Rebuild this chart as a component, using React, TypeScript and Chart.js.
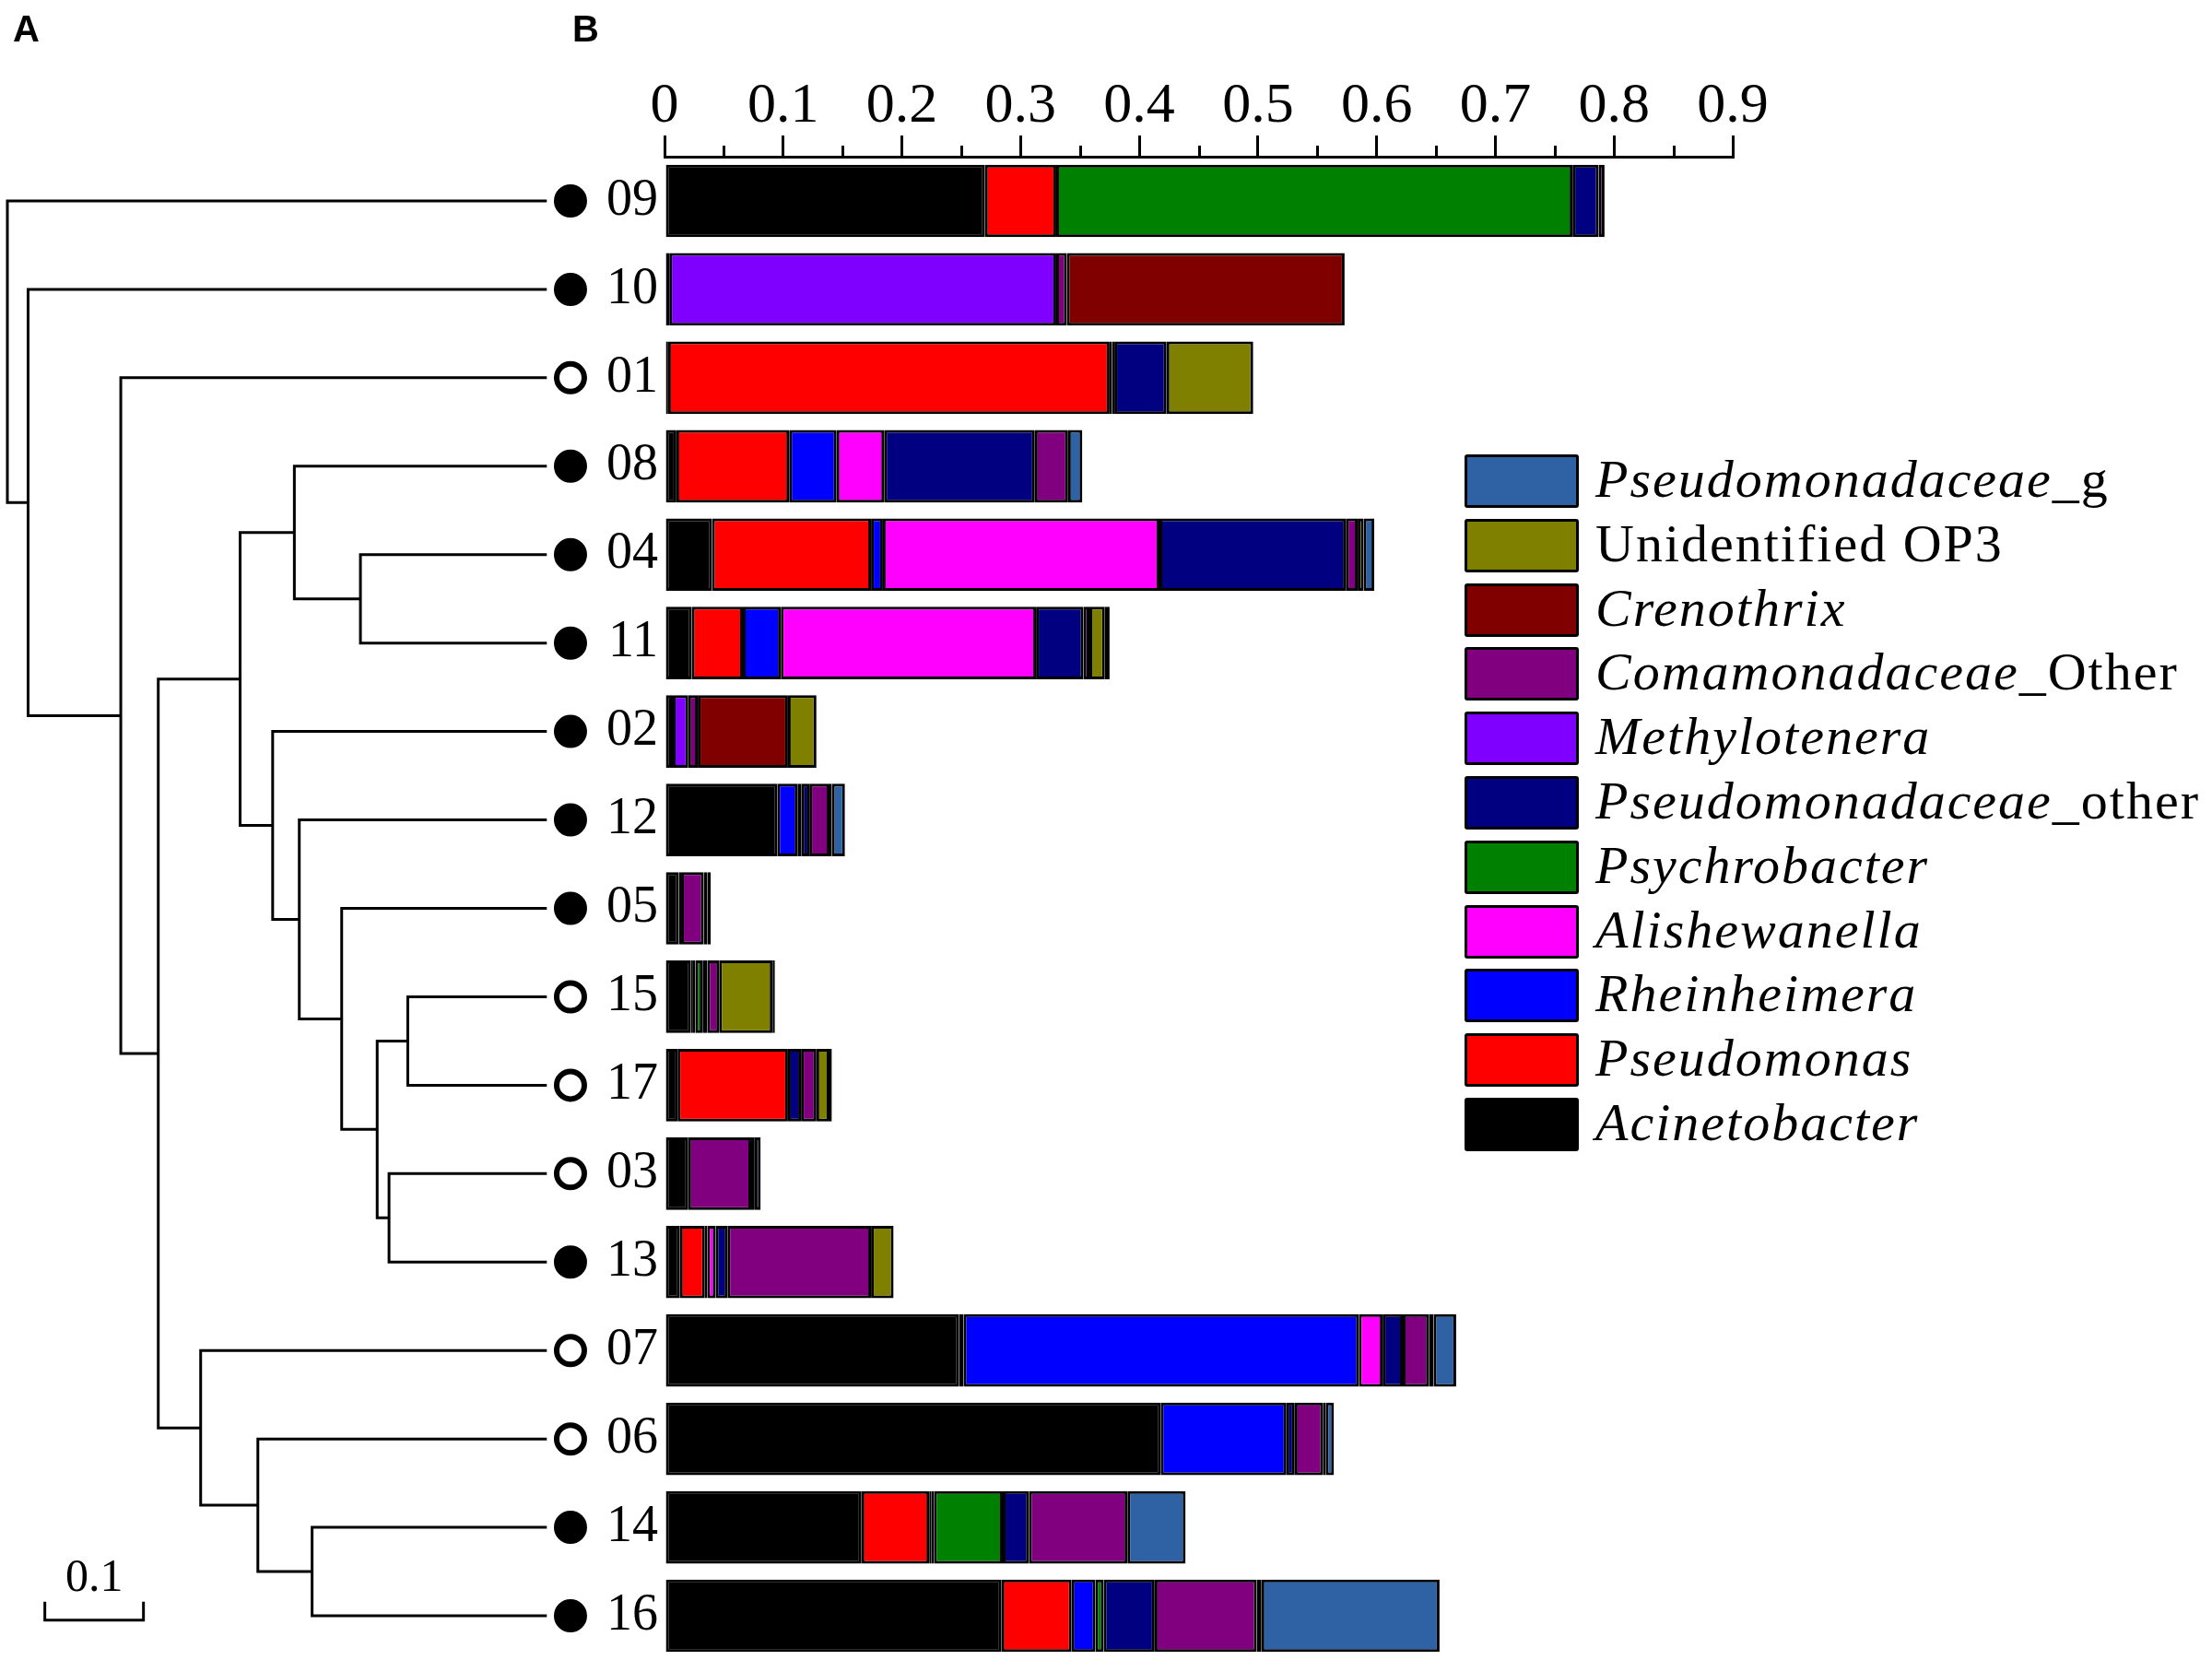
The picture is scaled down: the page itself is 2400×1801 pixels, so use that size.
import React, { useEffect, useRef } from 'react';
import { Chart, registerables } from 'chart.js';

Chart.register(...registerables);

// ---------- data ----------
const samples = ['09', '10', '01', '08', '04', '11', '02', '12', '05', '15', '17', '03', '13', '07', '06', '14', '16'];
const markerFilled = [true, true, false, true, true, true, true, true, true, false, false, false, true, false, false, true, true];

const taxa = [
  'Acinetobacter', 'Pseudomonas', 'Rheinheimera', 'Alishewanella', 'Psychrobacter',
  'Pseudomonadaceae_other', 'Methylotenera', 'Comamonadaceae_Other', 'Crenothrix',
  'Unidentified OP3', 'Pseudomonadaceae_g',
];
const taxaColors = ['#000000', '#FF0000', '#0000FF', '#FF00FF', '#008000', '#000080', '#8000FF', '#800080', '#800000', '#808000', '#2E62A4'];

const acinetobacter = [0.270, 0.004, 0.003, 0.010, 0.040, 0.023, 0.007, 0.095, 0.012, 0.022, 0.011, 0.020, 0.013, 0.248, 0.418, 0.166, 0.284];
const pseudomonas = [0.060, 0, 0.372, 0.095, 0.134, 0.043, 0, 0, 0, 0.002, 0.093, 0, 0.021, 0.004, 0, 0.057, 0.059];
const rheinheimera = [0, 0, 0.002, 0.040, 0.010, 0.032, 0, 0.017, 0, 0.002, 0, 0, 0.002, 0.333, 0.106, 0.002, 0.020];
const alishewanella = [0, 0, 0.002, 0.040, 0.233, 0.215, 0, 0.0035, 0, 0, 0, 0, 0.007, 0.020, 0, 0.002, 0];
const psychrobacter = [0.435, 0, 0, 0, 0, 0, 0, 0, 0, 0.006, 0, 0, 0, 0, 0, 0.058, 0.007];
const pseudomonadaceaeOther = [0.022, 0, 0.044, 0.127, 0.157, 0.040, 0, 0.0065, 0.002, 0.004, 0.011, 0, 0.010, 0.017, 0.007, 0.022, 0.043];
const methylotenera = [0, 0.326, 0, 0, 0, 0, 0.013, 0, 0, 0, 0, 0, 0, 0, 0, 0, 0];
const comamonadaceaeOther = [0.005, 0.009, 0, 0.028, 0.010, 0.005, 0.008, 0.017, 0.019, 0.010, 0.013, 0.053, 0.121, 0.022, 0.024, 0.083, 0.086];
const crenothrix = [0, 0.234, 0, 0, 0, 0, 0.076, 0, 0, 0, 0, 0, 0, 0, 0, 0, 0];
const unidentifiedOP3 = [0, 0, 0.073, 0, 0.005, 0.013, 0.024, 0.002, 0.003, 0.045, 0.011, 0.003, 0.019, 0.004, 0.002, 0, 0.004];
const pseudomonadaceaeG = [0, 0, 0, 0.012, 0.009, 0.004, 0, 0.011, 0.003, 0.002, 0.002, 0.005, 0, 0.019, 0.007, 0.049, 0.150];

const taxaValues = [
  acinetobacter, pseudomonas, rheinheimera, alishewanella, psychrobacter,
  pseudomonadaceaeOther, methylotenera, comamonadaceaeOther, crenothrix,
  unidentifiedOP3, pseudomonadaceaeG,
];

const xTickLabels = ['0', '0.1', '0.2', '0.3', '0.4', '0.5', '0.6', '0.7', '0.8', '0.9'];
const minorTickValues = [0.05, 0.15, 0.25, 0.35, 0.45, 0.55, 0.65, 0.75, 0.85];

// dendrogram (depth measured from the root)
const nodeIds = ['R', 'A', 'B', 'C', 'D', 'F', 'H', 'G', 'I', 'J', 'K', 'L', 'M', 'E', 'N', 'O'];
const nodeDepth = [0, 0.021, 0.115, 0.153, 0.236, 0.291, 0.358, 0.269, 0.296, 0.339, 0.375, 0.406, 0.387, 0.196, 0.254, 0.309];
const nodeChildA = ['09', '10', '01', 'D', 'F', '08', '04', '02', '12', '05', 'L', '15', '03', '07', '06', '14'];
const nodeChildB = ['A', 'B', 'C', 'E', 'G', 'H', '11', 'I', 'J', 'K', 'M', '17', '13', 'N', 'O', '16'];
const leafDepth = 0.547;
const markerDepth = 0.571;
const scaleBarStart = 0.038;
const scaleBarLength = 0.1;
const scaleBarLabel = '0.1';

// ---------- helpers ----------
function depthOf(id: string): number {
  const k = nodeIds.indexOf(id);
  return k >= 0 ? nodeDepth[k] : leafDepth;
}
function rowOf(id: string): number {
  const k = nodeIds.indexOf(id);
  if (k < 0) return samples.indexOf(id);
  return (rowOf(nodeChildA[k]) + rowOf(nodeChildB[k])) / 2;
}

const SERIF = '"Liberation Serif", "Times New Roman", serif';

const minorTickPlugin = {
  id: 'minorTicks',
  afterDraw(chart: any) {
    const xs = chart.scales.x;
    const ctx = chart.ctx;
    ctx.save();
    ctx.strokeStyle = '#000';
    ctx.lineWidth = 3;
    ctx.lineCap = 'butt';
    const yAxis = xs.bottom;
    minorTickValues.forEach((v) => {
      const x = Math.round(xs.getPixelForValue(v)) + 0.5;
      ctx.beginPath();
      ctx.moveTo(x, yAxis);
      ctx.lineTo(x, yAxis - 12);
      ctx.stroke();
    });
    ctx.restore();
  },
};

const scaleLabelPlugin = {
  id: 'scaleLabel',
  afterDatasetsDraw(chart: any) {
    const ctx = chart.ctx;
    const xs = chart.scales.x;
    const ys = chart.scales.y;
    ctx.save();
    ctx.font = `50px ${SERIF}`;
    ctx.fillStyle = '#000';
    ctx.textAlign = 'center';
    ctx.textBaseline = 'alphabetic';
    ctx.fillText(scaleBarLabel, xs.getPixelForValue(scaleBarStart + scaleBarLength / 2), ys.getPixelForValue(15.72));
    ctx.restore();
  },
};

export default function App() {
  const barRef = useRef<HTMLCanvasElement>(null);
  const treeRef = useRef<HTMLCanvasElement>(null);

  useEffect(() => {
    document.body.style.margin = '0';
    const barChart = new Chart(barRef.current as HTMLCanvasElement, {
      type: 'bar',
      data: {
        labels: samples,
        datasets: taxa.map((t, i) => ({
          label: t,
          data: taxaValues[i],
          backgroundColor: taxaColors[i],
          borderColor: '#000',
          borderWidth: 3,
          borderSkipped: false,
          categoryPercentage: 1,
          barPercentage: 0.82,
        })),
      },
      options: {
        indexAxis: 'y',
        animation: false,
        responsive: false,
        devicePixelRatio: 1,
        layout: { autoPadding: false, padding: { left: 0, right: 520, top: 0, bottom: 0 } },
        plugins: { legend: { display: false }, tooltip: { enabled: false } },
        scales: {
          x: {
            position: 'top',
            stacked: true,
            min: 0,
            max: 0.9,
            ticks: {
              stepSize: 0.1,
              autoSkip: false,
              maxRotation: 0,
              color: '#000',
              padding: 0,
              font: { family: SERIF, size: 62, lineHeight: 1 },
              callback: (v: any) => {
                const i = Math.round(Number(v) * 10);
                return xTickLabels[i] ?? '';
              },
            },
            grid: { drawOnChartArea: false, drawTicks: true, tickLength: 23, lineWidth: 3, color: '#000' },
            border: { display: true, color: '#000', width: 3 },
            afterFit: (s: any) => { s.height = 170; s.paddingLeft = 0; s.paddingRight = 0; },
          },
          y: {
            stacked: true,
            ticks: { color: '#000', padding: 7, font: { family: SERIF, size: 56 } },
            grid: { display: false, drawTicks: false },
            border: { display: false },
            afterFit: (s: any) => { s.width = 721; s.paddingTop = 0; s.paddingBottom = 0; },
          },
        },
      } as any,
      plugins: [minorTickPlugin],
    });

    const segments = nodeIds.map((id, k) => {
      const a = nodeChildA[k];
      const b = nodeChildB[k];
      const d = nodeDepth[k];
      return {
        type: 'line',
        data: [
          { x: depthOf(a), y: rowOf(a) },
          { x: d, y: rowOf(a) },
          { x: d, y: rowOf(b) },
          { x: depthOf(b), y: rowOf(b) },
        ],
        borderColor: '#000',
        borderWidth: 3,
        pointRadius: 0,
        fill: false,
        tension: 0,
        showLine: true,
        borderJoinStyle: 'miter',
        borderCapStyle: 'butt',
        clip: false,
      };
    });

    const treeChart = new Chart(treeRef.current as HTMLCanvasElement, {
      type: 'scatter',
      data: {
        datasets: [
          ...segments,
          {
            type: 'line',
            data: [
              { x: scaleBarStart, y: 15.84 },
              { x: scaleBarStart, y: 16.05 },
              { x: scaleBarStart + scaleBarLength, y: 16.05 },
              { x: scaleBarStart + scaleBarLength, y: 15.84 },
            ],
            borderColor: '#000',
            borderWidth: 3,
            pointRadius: 0,
            fill: false,
            showLine: true,
            borderJoinStyle: 'miter',
            clip: false,
          },
          {
            type: 'scatter',
            data: samples.map((s, i) => ({ x: markerDepth, y: i })),
            pointRadius: markerFilled.map((f) => (f ? 17 : 15)),
            pointBorderWidth: markerFilled.map((f) => (f ? 2 : 6)),
            pointBackgroundColor: markerFilled.map((f) => (f ? '#000' : '#fff')),
            pointBorderColor: '#000',
            pointStyle: 'circle',
            showLine: false,
            clip: false,
          },
        ] as any,
      },
      options: {
        animation: false,
        responsive: false,
        devicePixelRatio: 1,
        layout: { autoPadding: false, padding: { left: 8, right: 0, top: 170, bottom: 0 } },
        plugins: { legend: { display: false }, tooltip: { enabled: false } },
        scales: {
          x: { type: 'linear', min: 0, max: 712 / 1070, display: false },
          y: { type: 'linear', min: -0.5, max: 16.5, reverse: true, display: false },
        },
      } as any,
      plugins: [scaleLabelPlugin],
    });

    return () => {
      barChart.destroy();
      treeChart.destroy();
    };
  }, []);

  const legendOrder = taxa.map((_, i) => taxa.length - 1 - i);

  return (
    <div style={{ position: 'relative', width: 2400, height: 1801, overflow: 'hidden', background: '#fff' }}>
      <canvas ref={barRef} width={2400} height={1801} style={{ position: 'absolute', left: 0, top: 0 }} />
      <canvas ref={treeRef} width={720} height={1801} style={{ position: 'absolute', left: 0, top: 0 }} />
      <div style={{ position: 'absolute', left: 14, top: 11, font: 'bold 40px "Liberation Sans", Arial, sans-serif', lineHeight: '40px' }}>A</div>
      <div style={{ position: 'absolute', left: 621, top: 11, font: 'bold 40px "Liberation Sans", Arial, sans-serif', lineHeight: '40px' }}>B</div>
      {legendOrder.map((ti, r) => {
        const name = taxa[ti];
        const center = 522 + r * 69.8;
        let italicPart = name;
        let romanPart = '';
        if (name.startsWith('Unidentified')) {
          italicPart = '';
          romanPart = name;
        } else if (name.indexOf('_') >= 0) {
          italicPart = name.slice(0, name.indexOf('_'));
          romanPart = name.slice(name.indexOf('_'));
        }
        return (
          <React.Fragment key={name}>
            <div
              style={{
                position: 'absolute', left: 1589, top: center - 29, width: 124, height: 58,
                boxSizing: 'border-box', border: '3px solid #000', borderRadius: 3, background: taxaColors[ti],
              }}
            />
            <div
              style={{
                position: 'absolute', left: 1731, top: center - 31, whiteSpace: 'nowrap',
                fontFamily: SERIF, fontSize: 58, lineHeight: '58px', letterSpacing: '2px', color: '#000',
              }}
            >
              {italicPart && <span style={{ fontStyle: 'italic' }}>{italicPart}</span>}
              {romanPart && <span>{romanPart}</span>}
            </div>
          </React.Fragment>
        );
      })}
    </div>
  );
}
